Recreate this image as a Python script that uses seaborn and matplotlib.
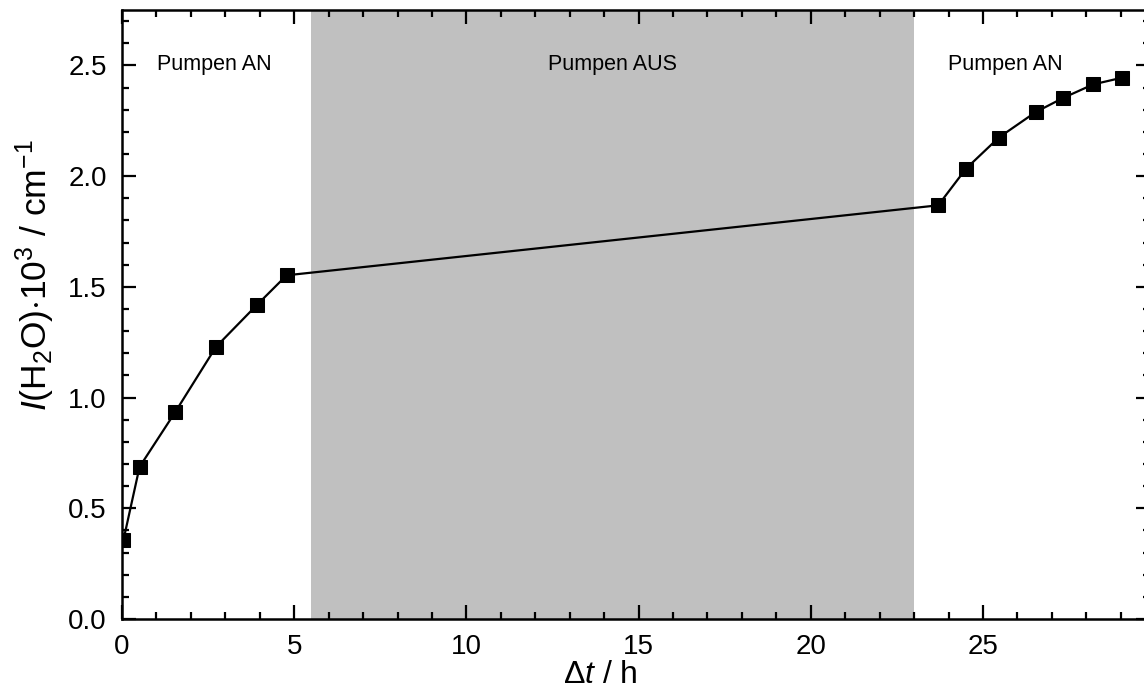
import matplotlib
matplotlib.use("Agg")
import matplotlib.pyplot as plt
from matplotlib.ticker import MultipleLocator, FormatStrFormatter
import seaborn as sns
import pandas as pd

# Measurement: water band intensity over time, with the pump switched off in between
time_h = [0.04, 0.51, 1.54, 2.73, 3.91, 4.78, 23.70, 24.51, 25.46, 26.53, 27.33, 28.20, 29.03]
intensity = [0.355, 0.687, 0.933, 1.229, 1.417, 1.552, 1.868, 2.034, 2.174, 2.289, 2.353, 2.414, 2.444]

pump_off_start = 5.5
pump_off_end = 23.0

phase_labels = ["Pumpen AN", "Pumpen AUS", "Pumpen AN"]
phase_label_x = [2.67, 14.25, 25.66]
phase_label_y = 2.505

sns.set_theme(style="ticks")
plt.rcParams["font.family"] = ["Liberation Sans", "DejaVu Sans"]
plt.rcParams["mathtext.fontset"] = "custom"
plt.rcParams["mathtext.rm"] = "Liberation Sans"
plt.rcParams["mathtext.it"] = "Liberation Sans:italic"
plt.rcParams["mathtext.sf"] = "Liberation Sans"
for key in ("text.color", "axes.labelcolor", "xtick.color", "ytick.color", "axes.edgecolor"):
    plt.rcParams[key] = "black"

df = pd.DataFrame({"t": time_h, "I": intensity})

fig = plt.figure(figsize=(11.44, 6.95), dpi=100)
ax = fig.add_axes([122 / 1144, 76 / 695, 1028 / 1144, 609 / 695])

ax.axvspan(pump_off_start, pump_off_end, color="#c0c0c0", lw=0, zorder=0)

sns.lineplot(data=df, x="t", y="I", ax=ax, color="black", linewidth=1.6,
             marker="s", markersize=10, markeredgecolor="black",
             markerfacecolor="black", sort=False, zorder=3)

for label, xp in zip(phase_labels, phase_label_x):
    ax.text(xp, phase_label_y, label, ha="center", va="center", fontsize=15.5,
            color="black")

ax.set_xlim(0, 29.85)
ax.set_ylim(0, 2.75)
ax.xaxis.set_major_locator(MultipleLocator(5))
ax.xaxis.set_minor_locator(MultipleLocator(1))
ax.yaxis.set_major_locator(MultipleLocator(0.5))
ax.yaxis.set_minor_locator(MultipleLocator(0.1))
ax.yaxis.set_major_formatter(FormatStrFormatter("%.1f"))

ax.tick_params(which="both", direction="in", top=True, right=True,
               width=1.6, color="black", labelcolor="black", labelsize=20, pad=11)
ax.tick_params(which="major", length=10)
ax.tick_params(which="minor", length=5)

for sp in ax.spines.values():
    sp.set_linewidth(1.8)
    sp.set_color("black")

ax.set_xlabel("Δ$\\mathit{t}$ / h", fontsize=23)
ax.xaxis.set_label_coords(0.465, -0.068)
ax.set_ylabel("$\\mathit{I}$(H$_2$O)$\\cdot$10$^3$ / cm$^{-1}$", fontsize=25.5)
ax.yaxis.set_label_coords(-0.063, 0.565)

fig.savefig("out.png", dpi=100)
